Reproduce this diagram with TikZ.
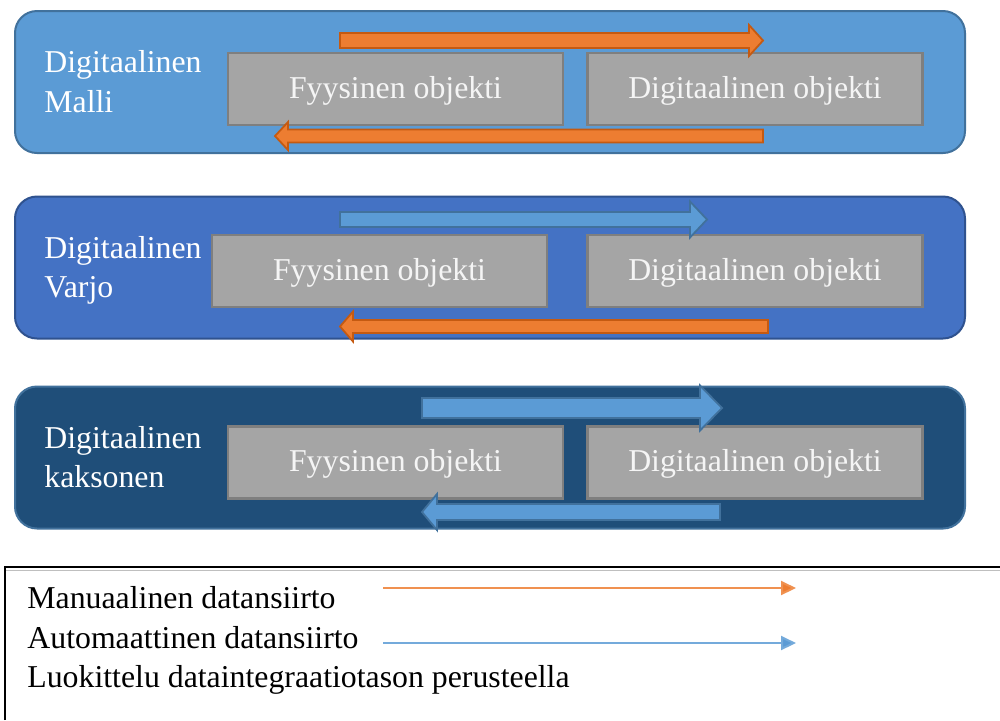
\documentclass[tikz,border=0pt]{standalone}
\usepackage{fontspec}
\setmainfont{Liberation Serif}
\usetikzlibrary{arrows.meta}

\definecolor{modelfill}{HTML}{5B9BD5}
\definecolor{modelline}{HTML}{41719C}
\definecolor{shadowfill}{HTML}{4472C4}
\definecolor{shadowline}{HTML}{2F528F}
\definecolor{twinfill}{HTML}{1F4E79}
\definecolor{twinline}{HTML}{41719C}
\definecolor{objfill}{HTML}{A5A5A5}
\definecolor{objline}{HTML}{7F7F7F}
\definecolor{objtext}{HTML}{F5F5F5}
\definecolor{manfill}{HTML}{ED7D31}
\definecolor{manline}{HTML}{C55A11}
\definecolor{autofill}{HTML}{5B9BD5}
\definecolor{autoline}{HTML}{41719C}

% block arrow: style, tail x, tip x, centre y, shaft half-height, head half-height, signed head length
\newcommand{\blockarrow}[7]{%
  \draw[#1] (#2,{#4-#5}) -- ({#3-(#7)},{#4-#5}) -- ({#3-(#7)},{#4-#6}) -- (#3,#4)
    -- ({#3-(#7)},{#4+#6}) -- ({#3-(#7)},{#4+#5}) -- (#2,{#4+#5}) -- cycle;}

\tikzset{
  txt/.style={font=\fontsize{15.9pt}{20pt}\selectfont, inner sep=0pt},
  panel/.style={draw, line width=1pt, rounded corners=11pt, minimum width=475pt, minimum height=71pt, inner sep=0pt},
  objbox/.style={txt, draw=objline, fill=objfill, line width=1.4pt, text=objtext,
    text height=12pt, text depth=3pt, minimum width=167.5pt, minimum height=36pt},
  kindlabel/.style={txt, text=white, anchor=base west},
  manarrow/.style={fill=manfill, draw=manline, line width=0.9pt, line join=miter},
  autoarrow/.style={fill=autofill, draw=autoline, line width=0.9pt, line join=miter},
  legendtext/.style={txt, text=black, anchor=base west},
}

\begin{document}
\begin{tikzpicture}[x=0.5pt, y=-0.5pt]
\useasboundingbox (0,0) rectangle (1000,720);
\fill[white] (0,0) rectangle (1000,720);

% ---- Digitaalinen malli ----
\node[panel, fill=modelfill, draw=modelline] (p1) at (490,82) {};
\node[kindlabel] (p1a) at (44,72) {Digitaalinen};
\node[kindlabel] (p1b) at (44,112) {Malli};
\node[objbox] (f1) at (395.5,89) {Fyysinen objekti};
\node[objbox] (d1) at (755,89) {Digitaalinen objekti};
\blockarrow{manarrow}{340}{763}{40.5}{7.5}{15.5}{14}
\blockarrow{manarrow}{763}{275}{136}{6.5}{14}{-13}

% ---- Digitaalinen varjo ----
\node[panel, fill=shadowfill, draw=shadowline] (p2) at (490,267.5) {};
\node[kindlabel] (p2a) at (44,258) {Digitaalinen};
\node[kindlabel] (p2b) at (44,297) {Varjo};
\node[objbox] (f2) at (379.5,271) {Fyysinen objekti};
\node[objbox] (d2) at (755,271) {Digitaalinen objekti};
\blockarrow{autoarrow}{340}{707}{219.5}{7.5}{18}{17}
\blockarrow{manarrow}{768}{340}{326.5}{6.5}{15}{-13}

% ---- Digitaalinen kaksonen ----
\node[panel, fill=twinfill, draw=twinline] (p3) at (490,457.5) {};
\node[kindlabel] (p3a) at (44,448) {Digitaalinen};
\node[kindlabel] (p3b) at (44,487) {kaksonen};
\node[objbox] (f3) at (395.5,462.5) {Fyysinen objekti};
\node[objbox] (d3) at (755,462.5) {Digitaalinen objekti};
\blockarrow{autoarrow}{422}{722}{408}{10}{22.5}{22}
\blockarrow{autoarrow}{720}{422}{512}{8}{18}{-15}

% ---- legend ----
\draw[gray!50, line width=0.5pt] (6,570) -- (1000,570);
\draw[black, line width=1pt] (5,720) -- (5,567) -- (1000,567);
\node[legendtext] (l1) at (27,608) {Manuaalinen datansiirto};
\node[legendtext] (l2) at (27,648) {Automaattinen datansiirto};
\node[legendtext] (l3) at (27,687) {Luokittelu dataintegraatiotason perusteella};
\coordinate (ms) at (383,588);
\coordinate (me) at (796,588);
\coordinate (as) at (383,643);
\coordinate (ae) at (796,643);
\draw[manfill!85, line width=1pt, -{Triangle[length=7.5pt,width=7pt,fill=manfill]}] (ms) -- (me);
\draw[autofill!85, line width=1pt, -{Triangle[length=7.5pt,width=7pt,fill=autofill]}] (as) -- (ae);
\end{tikzpicture}
\end{document}
